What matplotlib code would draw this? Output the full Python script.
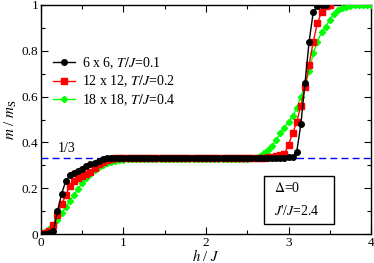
import matplotlib
matplotlib.use("Agg")
import matplotlib.pyplot as plt
from matplotlib.ticker import MultipleLocator, FixedLocator, FixedFormatter

plt.rcParams['font.family'] = ['Liberation Serif', 'DejaVu Serif']
plt.rcParams['mathtext.fontset'] = 'stix'

# 6 x 6, T/J = 0.1
h_black = [0.00, 0.05, 0.10, 0.15, 0.20, 0.25, 0.30, 0.35, 0.40, 0.45,
           0.50, 0.55, 0.60, 0.65, 0.70, 0.75, 0.80, 0.85, 0.90, 0.95,
           1.00, 1.05, 1.10, 1.15, 1.20, 1.25, 1.30, 1.35, 1.40, 1.45,
           1.50, 1.55, 1.60, 1.65, 1.70, 1.75, 1.80, 1.85, 1.90, 1.95,
           2.00, 2.05, 2.10, 2.15, 2.20, 2.25, 2.30, 2.35, 2.40, 2.45,
           2.50, 2.55, 2.60, 2.65, 2.70, 2.75, 2.80, 2.85, 2.90, 2.95,
           3.00, 3.05, 3.10, 3.15, 3.20, 3.25, 3.30, 3.35, 3.40, 3.45]
m_black = [0.000, 0.001, 0.004, 0.012, 0.100, 0.175, 0.232, 0.256, 0.266, 0.276,
           0.286, 0.296, 0.304, 0.312, 0.320, 0.326, 0.330, 0.332, 0.333, 0.334,
           0.334, 0.334, 0.334, 0.334, 0.334, 0.334, 0.334, 0.334, 0.334, 0.334,
           0.334, 0.334, 0.334, 0.334, 0.334, 0.334, 0.334, 0.334, 0.334, 0.334,
           0.334, 0.334, 0.334, 0.334, 0.334, 0.334, 0.334, 0.334, 0.334, 0.334,
           0.334, 0.334, 0.334, 0.334, 0.334, 0.334, 0.334, 0.334, 0.334, 0.334,
           0.335, 0.338, 0.360, 0.480, 0.660, 0.840, 0.970, 0.995, 1.000, 1.000]

# 12 x 12, T/J = 0.2
h_red = [0.00, 0.05, 0.10, 0.15, 0.20, 0.25, 0.30, 0.35, 0.40, 0.45,
         0.50, 0.55, 0.60, 0.65, 0.70, 0.75, 0.80, 0.85, 0.90, 0.95,
         1.00, 1.05, 1.10, 1.15, 1.20, 1.25, 1.30, 1.35, 1.40, 1.45,
         1.50, 1.55, 1.60, 1.65, 1.70, 1.75, 1.80, 1.85, 1.90, 1.95,
         2.00, 2.05, 2.10, 2.15, 2.20, 2.25, 2.30, 2.35, 2.40, 2.45,
         2.50, 2.55, 2.60, 2.65, 2.70, 2.75, 2.80, 2.85, 2.90, 2.95,
         3.00, 3.05, 3.10, 3.15, 3.20, 3.25, 3.30, 3.35, 3.40, 3.45, 3.50]
m_red = [0.000, 0.005, 0.015, 0.040, 0.085, 0.130, 0.170, 0.210, 0.230, 0.245,
         0.255, 0.262, 0.270, 0.290, 0.305, 0.315, 0.322, 0.328, 0.331, 0.333,
         0.333, 0.333, 0.333, 0.333, 0.333, 0.333, 0.333, 0.333, 0.333, 0.333,
         0.333, 0.333, 0.333, 0.333, 0.333, 0.333, 0.333, 0.333, 0.333, 0.333,
         0.333, 0.333, 0.333, 0.333, 0.333, 0.333, 0.333, 0.333, 0.333, 0.333,
         0.333, 0.333, 0.333, 0.333, 0.334, 0.336, 0.338, 0.340, 0.343, 0.350,
         0.390, 0.440, 0.490, 0.560, 0.640, 0.740, 0.840, 0.920, 0.970, 0.995, 1.000]

# 18 x 18, T/J = 0.4
h_green = [0.00, 0.05, 0.10, 0.15, 0.20, 0.25, 0.30, 0.35, 0.40, 0.45,
           0.50, 0.55, 0.60, 0.65, 0.70, 0.75, 0.80, 0.85, 0.90, 0.95,
           1.00, 1.05, 1.10, 1.15, 1.20, 1.25, 1.30, 1.35, 1.40, 1.45,
           1.50, 1.55, 1.60, 1.65, 1.70, 1.75, 1.80, 1.85, 1.90, 1.95,
           2.00, 2.05, 2.10, 2.15, 2.20, 2.25, 2.30, 2.35, 2.40, 2.45,
           2.50, 2.55, 2.60, 2.65, 2.70, 2.75, 2.80, 2.85, 2.90, 2.95,
           3.00, 3.05, 3.10, 3.15, 3.20, 3.25, 3.30, 3.35, 3.40, 3.45,
           3.50, 3.55, 3.60, 3.65, 3.70, 3.75, 3.80, 3.85, 3.90, 3.95, 4.00]
m_green = [0.000, 0.010, 0.022, 0.040, 0.062, 0.090, 0.118, 0.145, 0.172, 0.198,
           0.222, 0.244, 0.263, 0.278, 0.291, 0.302, 0.310, 0.316, 0.320, 0.323,
           0.325, 0.327, 0.328, 0.328, 0.328, 0.328, 0.328, 0.328, 0.328, 0.328,
           0.328, 0.328, 0.328, 0.328, 0.328, 0.328, 0.328, 0.328, 0.328, 0.328,
           0.328, 0.328, 0.328, 0.328, 0.328, 0.328, 0.328, 0.328, 0.328, 0.329,
           0.329, 0.330, 0.334, 0.342, 0.352, 0.366, 0.385, 0.410, 0.440, 0.465,
           0.490, 0.515, 0.550, 0.600, 0.650, 0.710, 0.790, 0.840, 0.880, 0.905,
           0.935, 0.962, 0.978, 0.987, 0.993, 0.996, 0.998, 0.999, 1.000, 1.000, 1.000]

labels = ["6 x 6, $T/J$=0.1", "12 x 12, $T/J$=0.2", "18 x 18, $T/J$=0.4"]
plateau = 1.0 / 3.0

fig = plt.figure(figsize=(3.74, 2.63), dpi=100)
ax = fig.add_axes([0.1096, 0.110, 0.8824, 0.871])

ax.axhline(plateau, color='#0000ff', lw=1.0, dashes=(5, 3), zorder=1)

ax.plot(h_black, m_black, color='black', lw=1.0, marker='o', ms=4,
        label=labels[0], zorder=5)
ax.plot(h_red, m_red, color='#ff0000', lw=1.0, marker='s', ms=4,
        label=labels[1], zorder=4)
ax.plot(h_green, m_green, color='#00ff00', lw=1.0, marker='D', ms=3.2,
        label=labels[2], zorder=3)

ax.set_xlim(0, 4)
ax.set_ylim(0, 1)
ax.xaxis.set_major_locator(MultipleLocator(1))
ax.xaxis.set_minor_locator(MultipleLocator(0.5))
ax.yaxis.set_major_locator(FixedLocator([0, 0.2, 0.4, 0.6, 0.8, 1.0]))
ax.yaxis.set_major_formatter(FixedFormatter(["0", "0.2", "0.4", "0.6", "0.8", "1"]))
ax.yaxis.set_minor_locator(MultipleLocator(0.1))
ax.tick_params(which='both', direction='in', top=True, right=True,
               labelsize=9.5, pad=2)
ax.tick_params(which='major', length=5, width=0.8)
ax.tick_params(which='minor', length=3, width=0.8)
for s in ax.spines.values():
    s.set_linewidth(1.0)

ax.set_xlabel("$h$ / $J$", fontsize=10.5)
ax.xaxis.set_label_coords(0.5, -0.062)
ax.set_ylabel("$m$ / $m_\\mathrm{S}$", fontsize=11, labelpad=2)

ax.text(0.20, 0.375, "1/3", fontsize=10, ha='left', va='center')

leg = ax.legend(loc='upper left', bbox_to_anchor=(0.035, 0.78), frameon=False,
                fontsize=10, handlelength=1.6, handletextpad=0.5,
                labelspacing=0.2, borderaxespad=0, borderpad=0)

box = plt.Rectangle((2.70, 0.045), 0.85, 0.21, fill=False, ec='black', lw=1.0, zorder=6)
ax.add_patch(box)
ax.text(2.82, 0.20, "$\\Delta$=0", fontsize=10, ha='left', va='center', zorder=7)
ax.text(2.82, 0.10, "$J$'/$J$=2.4", fontsize=10, ha='left', va='center', zorder=7)

fig.savefig("out.png", dpi=100)
